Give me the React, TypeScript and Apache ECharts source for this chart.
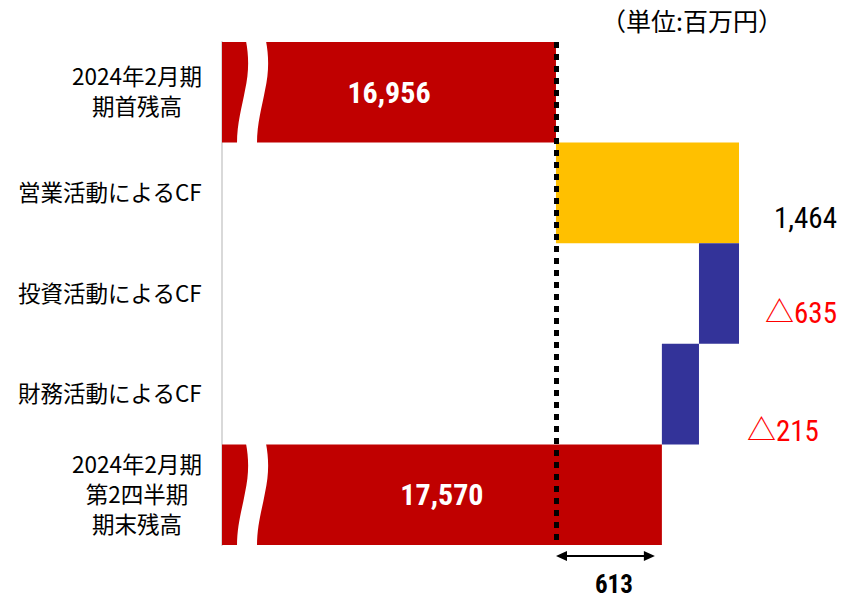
import React, { useEffect, useRef } from 'react';
import * as echarts from 'echarts';

// ---- data ----
const categories = [
  '2024年2月期\n期首残高',
  '営業活動によるCF',
  '投資活動によるCF',
  '財務活動によるCF',
  '2024年2月期\n第2四半期\n期末残高',
];
const openingBalance = 16956;
const cashFlows = [1464, -635, -215];
const closingBalance = 17570;
const netChangeLabel = 613;
const unitText = '（単位:百万円）';

// ---- styles ----
const RED = '#C00000';
const YELLOW = '#FFC000';
const BLUE = '#333399';
const NUM_FONT = "'Liberation Sans Narrow', 'Arial Narrow', 'Roboto Condensed', 'Noto Sans CJK JP', sans-serif";
const JP_FONT = "'Noto Sans CJK JP', 'Noto Sans', sans-serif";

const fmt = (v: number) => v.toLocaleString('en-US');

const WAVE_D =
  'M10 -1 C13 15 13 30 9 48 C6 65 1 80 1 101 L21 101 C21 80 26 65 29 48 C33 30 33 15 30 -1 Z';

try {
  echarts.graphic.registerShape('wave', echarts.graphic.extendPath(WAVE_D, {}) as any);
} catch (e) {
  /* already registered */
}

export default function App() {
  const ref = useRef<HTMLDivElement>(null);

  useEffect(() => {
    if (!ref.current) return;
    const chart = echarts.init(ref.current, null, { renderer: 'svg' });

    const xMin = 15020;
    const xMax = openingBalance + cashFlows.filter((f) => f > 0).reduce((a, b) => a + b, 0);

    const baseData: number[] = [0];
    const barData: any[] = [];
    barData.push({
      value: openingBalance,
      itemStyle: { color: RED },
      label: {
        show: true,
        position: 'inside',
        formatter: fmt(openingBalance),
        color: '#fff',
        fontSize: 30,
        fontWeight: 'bold',
        fontFamily: NUM_FONT,
      },
    });
    const flowOffsets = [
      [35, 25],
      [26, 19],
      [48, 37],
    ];
    let running = openingBalance;
    cashFlows.forEach((f, i) => {
      const base = f >= 0 ? running : running + f;
      baseData.push(base);
      barData.push({
        value: Math.abs(f),
        itemStyle: { color: f >= 0 ? YELLOW : BLUE },
        label: {
          show: true,
          position: 'right',
          distance: 0,
          offset: flowOffsets[i],
          formatter: f >= 0 ? fmt(f) : '△' + fmt(-f),
          color: f >= 0 ? '#000' : '#FF0000',
          fontSize: 29,
          fontFamily: NUM_FONT,
        },
      });
      running += f;
    });
    baseData.push(0);
    barData.push({
      value: closingBalance,
      itemStyle: { color: RED },
      label: {
        show: true,
        position: 'inside',
        formatter: fmt(closingBalance),
        color: '#fff',
        fontSize: 30,
        fontWeight: 'bold',
        fontFamily: NUM_FONT,
      },
    });

    const option: any = {
      animation: false,
      backgroundColor: '#fff',
      grid: { left: 222, right: 106, top: 42, bottom: 52 },
      xAxis: {
        type: 'value',
        min: xMin,
        max: xMax,
        axisLine: { show: false },
        axisTick: { show: false },
        axisLabel: { show: false },
        splitLine: { show: false },
        breaks: [{ start: 17850, end: 18253, gap: 0 }],
        breakArea: { show: false },
      },
      yAxis: {
        type: 'category',
        data: categories,
        inverse: true,
        axisLine: { show: true, lineStyle: { color: '#D9D9D9', width: 2 } },
        axisTick: { show: false },
        axisLabel: {
          margin: 20,
          formatter: (v: string) =>
            v
              .split('\n')
              .map((l) => `{c|${l}}`)
              .join('\n'),
          rich: {
            c: {
              align: 'center',
              fontSize: 22.5,
              lineHeight: 30,
              color: '#000',
              fontFamily: JP_FONT,
              padding: [0, 0, 4, 0],
            },
          },
        },
      },
      series: [
        {
          type: 'bar',
          stack: 'w',
          barWidth: '100%',
          barCategoryGap: '0%',
          itemStyle: { color: 'rgba(0,0,0,0)' },
          emphasis: { disabled: true },
          data: baseData,
        },
        {
          type: 'bar',
          stack: 'w',
          barWidth: '100%',
          barCategoryGap: '0%',
          emphasis: { disabled: true },
          data: barData,
          markLine: {
            silent: true,
            symbol: ['none', 'none'],
            label: { show: false },
            lineStyle: { color: '#000', width: 5, type: [6, 6] },
            data: [{ xAxis: openingBalance }],
          },
        },
      ],
    };
    chart.setOption(option);

    const px = (v: number) => chart.convertToPixel({ xAxisIndex: 0 }, v) as number;
    const py = (i: number) => chart.convertToPixel({ yAxisIndex: 0 }, i) as number;
    const x0 = px(xMin);
    const xOpen = px(openingBalance);
    const xClose = px(closingBalance);
    const band = Math.abs(py(1) - py(0));
    const yTop0 = py(0) - band / 2;
    const yTop4 = py(4) - band / 2;
    const yArrow = py(4) + band / 2 + 11;

    const graphic: any[] = [
      {
        type: 'text',
        left: 601,
        top: 7,
        style: { text: unitText, fontSize: 25, fill: '#000', fontFamily: JP_FONT },
      },
      {
        type: 'wave',
        x: x0 + 14,
        y: yTop0,
        scaleX: 1,
        scaleY: band / 100,
        style: { fill: '#fff' },
        z: 100,
      },
      {
        type: 'wave',
        x: x0 + 14,
        y: yTop4,
        scaleX: 1,
        scaleY: band / 100,
        style: { fill: '#fff' },
        z: 100,
      },
      {
        type: 'line',
        shape: { x1: xOpen + 8, y1: yArrow, x2: xClose - 16, y2: yArrow },
        style: { stroke: '#000', lineWidth: 2 },
        z: 100,
      },
      {
        type: 'polygon',
        shape: {
          points: [
            [xOpen, yArrow],
            [xOpen + 11, yArrow - 5],
            [xOpen + 11, yArrow + 5],
          ],
        },
        style: { fill: '#000' },
        z: 100,
      },
      {
        type: 'polygon',
        shape: {
          points: [
            [xClose - 7, yArrow],
            [xClose - 18, yArrow - 5],
            [xClose - 18, yArrow + 5],
          ],
        },
        style: { fill: '#000' },
        z: 100,
      },
      {
        type: 'text',
        x: (xOpen + xClose) / 2 + 5,
        y: yArrow + 28,
        style: {
          text: String(netChangeLabel),
          fontSize: 25,
          lineHeight: 22,
          fontWeight: 'bold',
          fill: '#000',
          fontFamily: NUM_FONT,
          align: 'center',
          verticalAlign: 'middle',
        },
        z: 100,
      },
    ];
    chart.setOption({ graphic });

    return () => chart.dispose();
  }, []);

  return (
    <div
      ref={ref}
      style={{ position: 'fixed', left: 0, top: 0, width: 845, height: 597, background: '#fff' }}
    />
  );
}
